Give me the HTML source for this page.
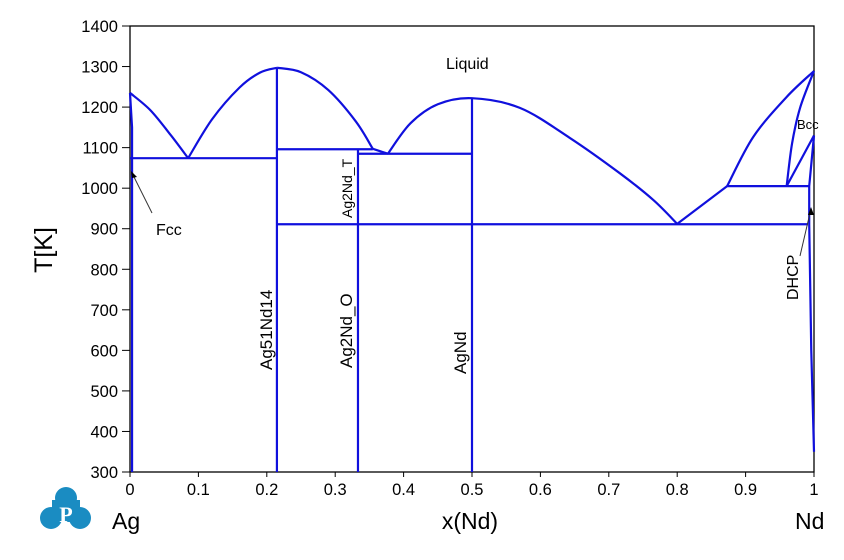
<!DOCTYPE html>
<html><head><meta charset="utf-8"><style>
body{margin:0;background:#fff;}
svg{display:block;font-family:"Liberation Sans",Arial,sans-serif;}
</style></head><body>
<svg id="chart" width="844" height="560">
<g id="axes"></g>
<g id="series"></g>
<g id="labels"></g>
</svg>
<script>
const xTicks=[0,0.1,0.2,0.3,0.4,0.5,0.6,0.7,0.8,0.9,1];
const xTickLabels=["0","0.1","0.2","0.3","0.4","0.5","0.6","0.7","0.8","0.9","1"];
const yTicks=[300,400,500,600,700,800,900,1000,1100,1200,1300,1400];
const liqAg=[[0,1235],[0.03,1192],[0.06,1130],[0.085,1074]];
const liqA51=[[0.085,1074],[0.12,1170],[0.16,1248],[0.19,1285],[0.215,1297]];
const liqA51r=[[0.215,1297],[0.25,1286],[0.29,1242],[0.33,1165],[0.355,1097]];
const liqA51tail=[[0.355,1097],[0.377,1085]];
const liqAgNd=[[0.377,1085],[0.41,1160],[0.45,1207],[0.5,1222],[0.57,1198],[0.643,1124],[0.716,1037],[0.765,971],[0.8,912]];
const liqNd1=[[0.8,912],[0.873,1005]];
const liqNd2=[[0.873,1005],[0.911,1126],[0.96,1225],[1,1289]];
const bccSolidus=[[0.96,1005],[0.968,1111],[0.98,1200],[1,1289]];
const bccLine=[[0.96,1005],[1,1130]];
const horiz=[[0,0.215,1074],[0.215,0.355,1096],[0.333,0.5,1085],[0.215,0.991,911],[0.873,0.994,1005]];
const verts=[[0.2148,300,1297],[0.3333,300,1096],[0.5,300,1222]];
const fcc=[[0,1235],[0.003,1150],[0.003,300]];
const dhcp=[[1,1130],[0.993,1005],[0.993,911],[0.996,600],[1,350]];

const X0=130,X1=814,Y0=472,Y1=26;
const sx=v=>X0+v*(X1-X0);
const sy=t=>Y0-(t-300)/1100*(Y0-Y1);
const NS="http://www.w3.org/2000/svg";
function mk(tag,attrs,parent){const e=document.createElementNS(NS,tag);for(const k in attrs)e.setAttribute(k,attrs[k]);parent.appendChild(e);return e;}
const axes=document.getElementById('axes'),ser=document.getElementById('series'),lab=document.getElementById('labels');

let fr=mk('rect',{x:X0,y:Y1,width:X1-X0,height:Y0-Y1,fill:'none',stroke:'#000','stroke-width':1.3},axes);


xTicks.forEach((v,i)=>{
 let l=mk('line',{x1:sx(v),x2:sx(v),y1:Y0,y2:Y0+5,stroke:'#000'},axes);
 
 
 let t=mk('text',{x:sx(v),y:Y0+23,'font-size':16.5,'text-anchor':'middle'},axes);t.textContent=xTickLabels[i];
 
 
});
yTicks.forEach(v=>{
 let l=mk('line',{x1:X0-8,x2:X0,y1:sy(v),y2:sy(v),stroke:'#000'},axes);
 
 
 let t=mk('text',{x:X0-12,y:sy(v)+6,'font-size':16.5,'text-anchor':'end'},axes);t.textContent=v;
 
 
});
function poly(pts,name){
 let p=mk('polyline',{points:pts.map(q=>sx(q[0])+','+sy(q[1])).join(' '),fill:'none',stroke:'#1010dd','stroke-width':2.2,'stroke-linejoin':'round'},ser);
 
 
}
function smooth(pts,name){
 const P=pts.map(q=>[sx(q[0]),sy(q[1])]);
 let d='M'+P[0][0]+','+P[0][1];
 for(let i=0;i<P.length-1;i++){
  const p0=P[Math.max(i-1,0)],p1=P[i],p2=P[i+1],p3=P[Math.min(i+2,P.length-1)];
  const c1=[p1[0]+(p2[0]-p0[0])/6,p1[1]+(p2[1]-p0[1])/6];
  const c2=[p2[0]-(p3[0]-p1[0])/6,p2[1]-(p3[1]-p1[1])/6];
  d+=' C'+c1+' '+c2+' '+p2;
 }
 let p=mk('path',{d:d,fill:'none',stroke:'#1010dd','stroke-width':2.2},ser);
 
 
}
smooth(liqAg,'liquidus-ag');smooth(liqA51,'liquidus-ag51nd14-left');smooth(liqA51r,'liquidus-ag51nd14-right');
poly(liqA51tail,'liquidus-ag2nd-tail');
smooth(liqAgNd,'liquidus-agnd');poly(liqNd1,'liquidus-nd-lower');smooth(liqNd2,'liquidus-nd');smooth(bccSolidus,'bcc-solidus');poly(bccLine,'bcc-boundary');
poly(fcc,'fcc-solvus');poly(dhcp,'dhcp-boundary');
horiz.forEach(h=>poly([[h[0],h[2]],[h[1],h[2]]],'invariant-line'));
verts.forEach(v=>poly([[v[0],v[1]],[v[0],v[2]]],'compound-line'));

function txt(x,y,s,size,name,rot,anchor){
 let t=mk('text',{x:x,y:y,'font-size':size,'text-anchor':anchor||'start'},lab);t.textContent=s;
 if(rot)t.setAttribute('transform','rotate(-90 '+x+' '+y+')');
 
 
}
txt(446,69,'Liquid',16,'liquid-label');
txt(797,129,'Bcc',13,'bcc-label');
txt(156,235,'Fcc',16,'fcc-label');
txt(798,300,'DHCP',16,'dhcp-label',true);
txt(272,370,'Ag51Nd14',17,'ag51nd14-label',true);
txt(352,368,'Ag2Nd_O',17,'ag2nd-o-label',true);
txt(352,218,'Ag2Nd_T',14,'ag2nd-t-label',true);
txt(466,374,'AgNd',17,'agnd-label',true);
txt(52,250,'T[K]',25,'y-axis-title',true,'middle');
txt(470,529,'x(Nd)',23,'x-axis-title',false,'middle');
txt(112,529,'Ag',23,'left-element-label');
txt(795,529,'Nd',23,'right-element-label');
</script>
<svg style="position:absolute;left:0;top:0" width="844" height="560">
<line x1="152" y1="213" x2="133" y2="175" stroke="#333"/>
<polygon points="131,171 137,177 132,178" fill="#000"/>
<line x1="800" y1="256" x2="810" y2="213" stroke="#333"/>
<polygon points="811,207 808,215 814,215" fill="#000"/>
<g>
<circle cx="66" cy="498" r="11" fill="#1a8cc2"/>
<circle cx="51" cy="518" r="11" fill="#1a8cc2"/>
<circle cx="80" cy="518" r="11" fill="#1a8cc2"/>
<rect x="52" y="500" width="28" height="22" fill="#1a8cc2"/>
<text x="66" y="522" font-size="22" font-weight="bold" fill="#fff" text-anchor="middle" font-family="Liberation Serif,serif">P</text>
</g>
</svg>
</body></html>
